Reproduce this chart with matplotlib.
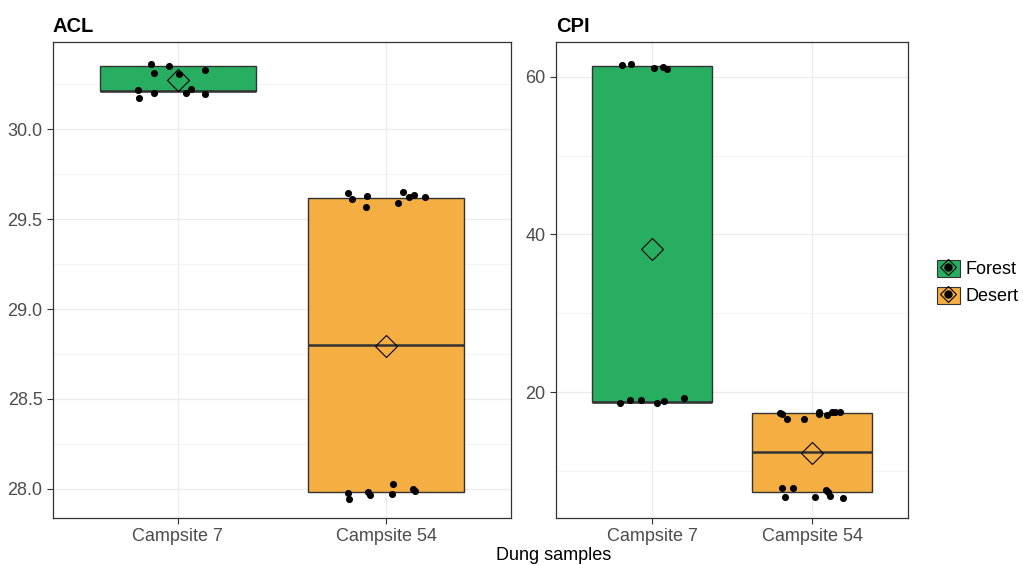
import matplotlib
matplotlib.use("Agg")
import matplotlib.pyplot as plt
from matplotlib.patches import Patch
from matplotlib.lines import Line2D
from matplotlib.legend_handler import HandlerTuple
from matplotlib.ticker import MultipleLocator, FormatStrFormatter

plt.rcParams['font.family'] = ['Liberation Sans', 'DejaVu Sans']

sites = ['Campsite 7', 'Campsite 54']
groups = ['Forest', 'Desert']
colors = {'Forest': '#27AE60', 'Desert': '#F5AE42'}

# box stats: q1, median, q3, mean
acl_q1 = [30.211, 27.980]
acl_med = [30.211, 28.798]
acl_q3 = [30.351, 29.616]
acl_mean = [30.273, 28.795]

cpi_q1 = [18.78, 7.29]
cpi_med = [18.78, 12.35]
cpi_q3 = [61.35, 17.30]
cpi_mean = [38.19, 12.22]

# jittered points: x offset from category centre, value
acl_c7_dx = [-0.131, -0.043, -0.115, 0.006, 0.128, -0.192, -0.188, -0.115, 0.038, 0.061, 0.128]
acl_c7_y = [30.363, 30.352, 30.312, 30.306, 30.332, 30.219, 30.173, 30.204, 30.204, 30.224, 30.195]
acl_c54_dx = [-0.181, -0.165, -0.093, -0.098, 0.059, 0.083, 0.111, 0.135, 0.188,
              -0.181, -0.178, -0.087, -0.077, 0.034, 0.027, 0.127, 0.139]
acl_c54_y = [29.644, 29.612, 29.629, 29.566, 29.592, 29.649, 29.625, 29.634, 29.625,
             27.978, 27.943, 27.983, 27.965, 28.025, 27.970, 27.998, 27.989]

cpi_c7_dx = [-0.187, -0.131, 0.014, 0.066, 0.091, -0.198, -0.137, -0.067, 0.033, 0.072, 0.199]
cpi_c7_y = [61.48, 61.65, 61.06, 61.23, 61.01, 18.66, 18.99, 18.99, 18.66, 18.86, 19.29]
cpi_c54_dx = [-0.202, -0.187, -0.156, -0.050, 0.042, 0.046, 0.093, 0.125, 0.146, 0.173,
              -0.187, -0.120, -0.170, 0.021, 0.087, 0.100, 0.115, 0.193]
cpi_c54_y = [17.39, 17.18, 16.63, 16.63, 17.47, 17.18, 17.09, 17.52, 17.52, 17.52,
             7.77, 7.77, 6.71, 6.71, 7.56, 7.27, 6.84, 6.58]

fig = plt.figure(figsize=(10.23, 5.65), dpi=100)
ax1 = fig.add_axes([0.0518, 0.0832, 0.4477, 0.8425])
ax2 = fig.add_axes([0.5435, 0.0832, 0.3441, 0.8425])


def draw_panel(ax, title, q1, med, q3, mean, pts, ylim, major, minor):
    stats = []
    for i in range(len(sites)):
        stats.append({'med': med[i], 'q1': q1[i], 'q3': q3[i], 'whislo': q1[i],
                      'whishi': q3[i], 'mean': mean[i], 'fliers': []})
    bp = ax.bxp(stats, positions=[1, 2], widths=0.75, patch_artist=True,
                showmeans=True, showcaps=False, zorder=2,
                boxprops=dict(edgecolor='#333333', linewidth=1.0),
                medianprops=dict(color='#333333', linewidth=1.8),
                whiskerprops=dict(color='#333333', linewidth=1.0),
                meanprops=dict(marker='D', markersize=11, markerfacecolor='none',
                               markeredgecolor='black', markeredgewidth=0.8))
    for patch, g in zip(bp['boxes'], groups):
        patch.set_facecolor(colors[g])
    for i, (dx, y) in enumerate(pts):
        ax.scatter([i + 1 + d for d in dx], y, s=26, color='black', zorder=3, linewidths=0)
    ax.set_xlim(0.4, 2.6)
    ax.set_ylim(*ylim)
    ax.set_xticks([1, 2])
    ax.set_xticklabels(sites)
    ax.yaxis.set_major_locator(MultipleLocator(major))
    ax.yaxis.set_minor_locator(MultipleLocator(minor))
    ax.grid(True, which='major', color='#EBEBEB', linewidth=0.9, zorder=0)
    ax.grid(True, which='minor', axis='y', color='#F2F2F2', linewidth=0.6, zorder=0)
    ax.set_axisbelow(True)
    ax.tick_params(axis='both', which='major', labelsize=13, labelcolor='#4D4D4D',
                   color='#333333', length=4, width=0.8)
    ax.tick_params(axis='y', which='minor', length=0)
    for s in ax.spines.values():
        s.set_color('#333333')
        s.set_linewidth(0.9)
    ax.set_title(title, loc='left', fontsize=14.5, fontweight='bold', pad=7)


draw_panel(ax1, 'ACL', acl_q1, acl_med, acl_q3, acl_mean,
           [(acl_c7_dx, acl_c7_y), (acl_c54_dx, acl_c54_y)],
           (27.837, 30.486), 0.5, 0.25)
ax1.yaxis.set_major_formatter(FormatStrFormatter('%.1f'))
draw_panel(ax2, 'CPI', cpi_q1, cpi_med, cpi_q3, cpi_mean,
           [(cpi_c7_dx, cpi_c7_y), (cpi_c54_dx, cpi_c54_y)],
           (4.02, 64.40), 20, 10)

fig.text(0.5415, 0.016, 'Dung samples', ha='center', va='center', fontsize=13)

handles = []
for g in groups:
    box = Patch(facecolor=colors[g], edgecolor='#333333', linewidth=0.8)
    dot = Line2D([], [], marker='o', linestyle='none', color='black', markersize=5)
    dia = Line2D([], [], marker='D', linestyle='none', markerfacecolor='none',
                 markeredgecolor='black', markeredgewidth=0.8, markersize=8)
    handles.append((box, dot, dia))
fig.legend(handles, groups, handler_map={tuple: HandlerTuple(ndivide=1, pad=0)},
           loc='center left', bbox_to_anchor=(0.916, 0.5), frameon=False,
           fontsize=13, handlelength=1.25, handleheight=1.1, labelspacing=0.45,
           handletextpad=0.3, borderpad=0, borderaxespad=0)

fig.savefig('out.png', dpi=100)
